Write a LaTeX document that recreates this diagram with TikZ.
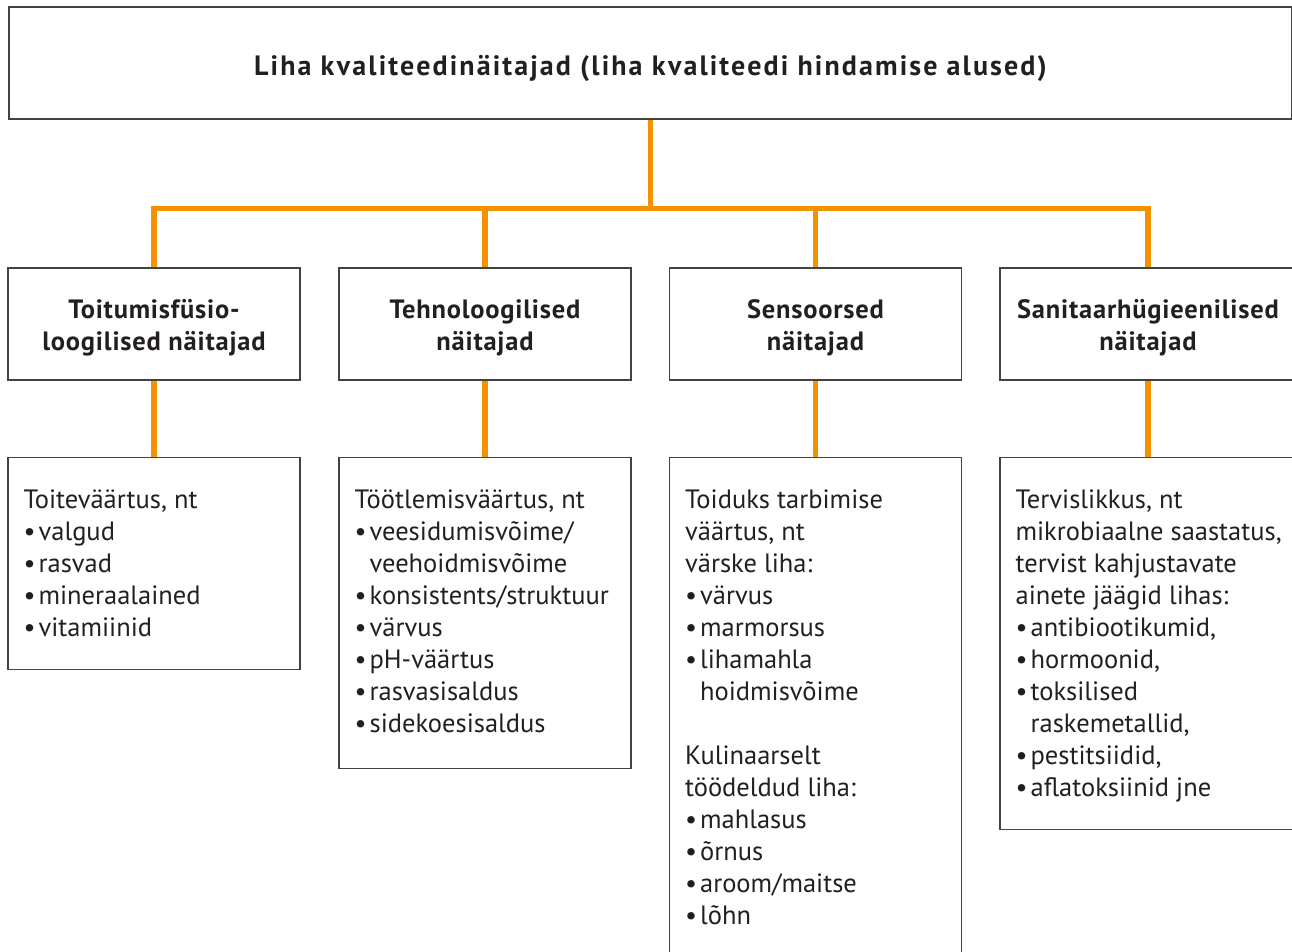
\documentclass[tikz,border=0pt]{standalone}
\usepackage{fontspec}
\setmainfont{PT Sans}
\usetikzlibrary{positioning,calc}

\definecolor{linkorange}{HTML}{F39200}
\definecolor{inkdark}{HTML}{231F20}

\newcommand{\bul}{\makebox[15pt][l]{•}}
\newcommand{\cont}{\hspace*{15pt}}
\newcommand{\lowered}[2]{\raisebox{-#1}[\height][\depth]{#2}}
\newcommand{\grouplabel}[1]{\lowered{4pt}{\begin{tabular}{@{}c@{}}#1\end{tabular}}}

\begin{document}
\begin{tikzpicture}[
    x=1pt, y=-1pt,
    every node/.style={
        font=\fontsize{26.5pt}{32pt}\selectfont,
        text=inkdark
    },
    rootbox/.style={
        draw=inkdark!85,
        line width=1.2pt,
        minimum width=1283pt,
        minimum height=112pt,
        font=\fontsize{28pt}{32pt}\selectfont\bfseries\addfontfeatures{LetterSpace=7.5}
    },
    groupbox/.style={
        draw=inkdark!85,
        line width=1.2pt,
        minimum width=292pt,
        minimum height=112pt,
        font=\fontsize{26.5pt}{32pt}\selectfont\bfseries\addfontfeatures{LetterSpace=3}
    },
    listbox/.style={
        draw=inkdark!85,
        line width=1.2pt,
        minimum width=292pt,
        inner sep=0pt
    },
    listtext/.style={
        anchor=north west,
        inner sep=0pt,
        align=left
    },
    connector/.style={
        draw=linkorange,
        line width=5.5pt
    }
]

\useasboundingbox (0,0) rectangle (1292,952);

% ============================================================
% Root
% ============================================================

\node[rootbox] (root) at (650.5,63)
{\lowered{5pt}{Liha kvaliteedinäitajad (liha kvaliteedi hindamise alused)}};

% ============================================================
% Indicator groups
% ============================================================

\node[groupbox] (nutri) at (154,324)
{\grouplabel{Toitumisfüsio-\\loogilised näitajad}};

\node[groupbox] (techno) at (485,324)
{\grouplabel{Tehnoloogilised\\näitajad}};

\node[groupbox] (sensor) at (815.5,324)
{\grouplabel{Sensoorsed\\näitajad}};

\node[groupbox, minimum width=296pt] (sanit) at (1148,324)
{\grouplabel{Sanitaarhügieenilised\\näitajad}};

% Root branch
\coordinate (rootjunction) at ($(root.south)+(0,89)$);

\draw[connector]
(root.south) -- (rootjunction);

\draw[connector]
(nutri.north) |- (rootjunction) -| (sanit.north);

\draw[connector]
(techno.north) -- (techno.north |- rootjunction);

\draw[connector]
(sensor.north) -- (sensor.north |- rootjunction);

% ============================================================
% Lists
% ============================================================

\node[listbox, minimum height=212pt, below=76pt of nutri]
(nutrilist) {};

\node[listbox, minimum height=311pt, below=76pt of techno]
(technolist) {};

\node[listbox, minimum height=520pt, below=76pt of sensor]
(sensorlist) {};

\node[listbox, minimum width=296pt, minimum height=372pt, below=76pt of sanit]
(sanitlist) {};

\foreach \grp in {nutri,techno,sensor,sanit}
    \draw[connector] (\grp.south) -- (\grp list.north);

\node[listtext] (nutritext)
    at ($(nutrilist.north west)+(16,29.6)$)
{\strut Toiteväärtus, nt\\
\bul valgud\\
\bul rasvad\\
\bul mineraalained\\
\bul vitamiinid};

\node[listtext] (technotext)
    at ($(technolist.north west)+(16,29.6)$)
{\strut Töötlemisväärtus, nt\\
\bul veesidumisvõime/\\
\cont veehoidmisvõime\\
\bul konsistents/struktuur\\
\bul värvus\\
\bul pH-väärtus\\
\bul rasvasisaldus\\
\bul sidekoesisaldus};

\node[listtext] (sensortext)
    at ($(sensorlist.north west)+(16,29.6)$)
{\strut Toiduks tarbimise\\
väärtus, nt\\
värske liha:\\
\bul värvus\\
\bul marmorsus\\
\bul lihamahla\\
\cont hoidmisvõime\\[32pt]
Kulinaarselt\\
töödeldud liha:\\
\bul mahlasus\\
\bul õrnus\\
\bul aroom/maitse\\
\bul lõhn};

\node[listtext] (sanittext)
    at ($(sanitlist.north west)+(16,29.6)$)
{\strut Tervislikkus, nt\\
mikrobiaalne saastatus,\\
tervist kahjustavate\\
ainete jäägid lihas:\\
\bul antibiootikumid,\\
\bul hormoonid,\\
\bul toksilised\\
\cont raskemetallid,\\
\bul pestitsiidid,\\
\bul aflatoksiinid jne};

\end{tikzpicture}
\end{document}
